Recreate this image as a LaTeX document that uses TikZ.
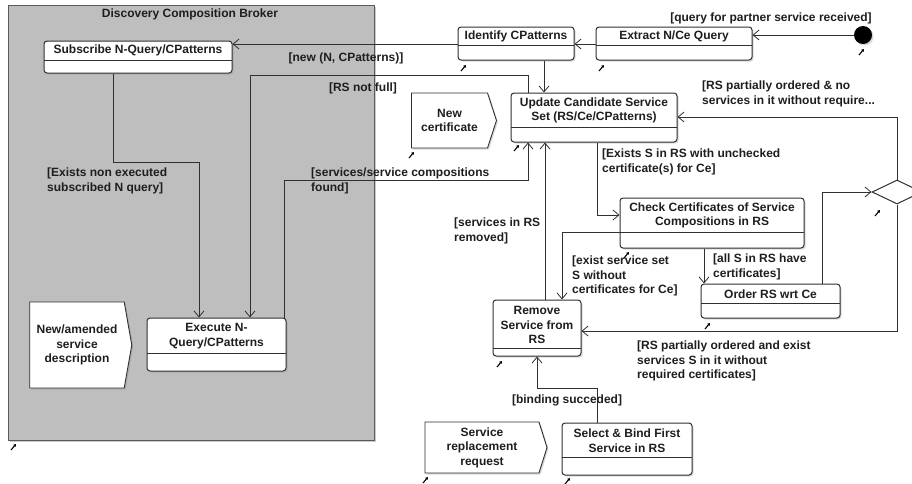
\documentclass[tikz,border=0pt]{standalone}
\usepackage{fontspec}
\setmainfont{Liberation Sans}
\usetikzlibrary{arrows.meta,shapes.geometric,shapes.symbols,shadows}
\definecolor{brokergray}{HTML}{BEBEBE}
\definecolor{linegray}{HTML}{303030}
\definecolor{txtdark}{HTML}{1E1E1E}

\begin{document}
\begin{tikzpicture}[
    x=1pt, y=-1pt,
    every node/.style={font={\fontsize{12}{14.5}\selectfont\bfseries}, text=txtdark},
    act/.style={draw=linegray, line width=1pt, rounded corners=3pt, fill=white,
                inner sep=0pt,
                drop shadow={shadow xshift=1.5pt, shadow yshift=-1.5pt, opacity=0.3}},
    sig/.style={signal, signal to=east, draw=linegray, line width=0.9pt, fill=white,
                inner sep=0pt, align=center,
                drop shadow={shadow xshift=1.5pt, shadow yshift=-1.5pt, opacity=0.3}},
    sep/.style={draw=linegray, line width=0.8pt},
    flow/.style={draw=linegray, line width=0.8pt, -{Straight Barb[length=6pt,width=10pt]}},
    guard/.style={inner sep=0pt, align=left, anchor=west},
    lnk/.style={line width=1.1pt, -{Triangle[length=2.5pt,width=3pt]}},
]
\useasboundingbox (0,0) rectangle (912,483);
\clip (0,0) rectangle (912,483);

% broker partition
\node[draw=linegray!80, line width=1pt, fill=brokergray, minimum width=366, minimum height=435,
      inner sep=0pt, drop shadow={shadow xshift=1.5pt, shadow yshift=-1.5pt, opacity=0.4}]
  (broker) at (191,222.5) {};
\node (broker-t) at (190,14) {Discovery Composition Broker};

% initial node
\node[circle, fill=black, minimum size=18, inner sep=0pt,
      drop shadow={shadow xshift=1.5pt, shadow yshift=-1.5pt, opacity=0.3}] (init) at (863,35) {};

% actions
\node[act, minimum width=188, minimum height=32] (sub) at (138,57) {};
\draw[sep] (44,60) -- (232,60);
\node (sub-t) at (138,50.5) {Subscribe N-Query/CPatterns};

\node[act, minimum width=116, minimum height=33] (idf) at (516,43.5) {};
\draw[sep] (458,45) -- (574,45);
\node (idf-t) at (516,36.5) {Identify CPatterns};

\node[act, minimum width=156, minimum height=33] (ext) at (674,43.5) {};
\draw[sep] (596,45) -- (752,45);
\node (ext-t) at (674,36.5) {Extract N/Ce Query};

\node[act, minimum width=166, minimum height=49] (upd) at (594,117.5) {};
\draw[sep] (511,127) -- (677,127);
\node[align=center] (upd-t) at (594,110.5) {Update Candidate Service\\Set (RS/Ce/CPatterns)};

\node[act, minimum width=139, minimum height=53] (exe) at (216.5,344.5) {};
\draw[sep] (147,353) -- (286,353);
\node[align=center] (exe-t) at (216.5,336) {Execute N-\\Query/CPatterns};

\node[act, minimum width=184, minimum height=50] (chk) at (712,223) {};
\draw[sep] (620,232) -- (804,232);
\node[align=center] (chk-t) at (712,215.5) {Check Certificates of Service\\Compositions in RS};

\node[act, minimum width=139, minimum height=34] (ord) at (770.5,301) {};
\draw[sep] (701,303) -- (840,303);
\node (ord-t) at (770.5,294) {Order RS wrt Ce};

\node[act, minimum width=88, minimum height=56] (rem) at (537,328) {};
\draw[sep] (493,348) -- (581,348);
\node[align=center] (rem-t) at (537,325) {Remove\\Service from\\RS};

\node[act, minimum width=130, minimum height=52] (sel) at (627,449) {};
\draw[sep] (562,457) -- (692,457);
\node[align=center] (sel-t) at (627,440.5) {Select \& Bind First\\Service in RS};

% decision
\node[diamond, draw=linegray, line width=1pt, fill=white, minimum width=50, minimum height=24,
      inner sep=0pt] (dec) at (897,192) {};

% signals
\node[sig, signal pointer angle=144, minimum width=85, minimum height=55] (ncert) at (449.5,120.5)
  {New\\certificate};
\node[sig, signal pointer angle=160, minimum width=102, minimum height=86] (nasd) at (77,345)
  {New/amended\\service\\description};
\node[sig, signal pointer angle=145, minimum width=122, minimum height=51] (srr) at (482,447.5)
  {Service\\replacement\\request};

% flows
\draw[flow] (init) -- (ext.east |- init);
\node (g-query) at (771,18) {[query for partner service received]};

\draw[flow] (ext.west |- 0,44) -- (idf.east |- 0,44);
\draw[flow] (idf.west |- 0,44) -- (sub.east |- 0,44);
\node (g-new) at (346,58) {[new (N, CPatterns)]};

\draw[flow] (idf.south -| 544,0) -- (upd.north -| 544,0);

\draw[flow] (upd.north -| 528,0) |- (250,75) -- (exe.north -| 250,0);
\node (g-full) at (363,88) {[RS not full]};

\draw[flow] (sub.south -| 113,0) |- (199,162) -- (exe.north -| 199,0);
\node[guard] (g-exists) at (47,181) {[Exists non executed\\subscribed N query]};

\draw[flow] (exe.north -| 284,0) |- (528,180) -- (upd.south -| 528,0);
\node[guard] (g-found) at (311,181) {[services/service compositions\\found]};

\draw[flow] (rem.north -| 545,0) -- (upd.south -| 545,0);
\node[guard] (g-removed) at (454,231) {[services in RS\\removed]};

\draw[flow] (upd.south -| 597,0) |- (chk.west |- 0,215);
\node[guard] (g-unchecked) at (602,162) {[Exists S in RS with unchecked\\certificate(s) for Ce]};

\draw[flow] (chk.west |- 0,232) -| (rem.north -| 562,0);
\node[guard] (g-without) at (572,276) {[exist service set\\S without\\certificates for Ce]};

\draw[flow] (chk.south -| 704,0) -- (ord.north -| 704,0);
\node[guard] (g-all) at (713,267) {[all S in RS have\\certificates]};

\draw[flow] (ord.north -| 822,0) |- (dec.west);

\draw[flow] (dec.north) |- (upd.east |- 0,117);
\node[guard] (g-nomiss) at (702,94) {[RS partially ordered \& no\\services in it without require...};

\draw[flow] (dec.south) |- (rem.east |- 0,331);
\node[guard] (g-partial) at (637,361) {[RS partially ordered and exist\\services S in it without\\required certificates]};

\draw[flow] (sel.north -| 597,0) |- (537,388) -- (rem.south -| 537,0);
\node (g-bind) at (567,400) {[binding succeded]};

% link markers
\foreach \mx/\my in {463/68, 601/68, 516/148, 411/155, 861/52, 877/213,
                     626/255, 707/326, 499/364, 567/481, 425/480, 13/447}{
  \draw[lnk] (\mx-2,\my+3) -- ++(5,-6);
}

\end{tikzpicture}
\end{document}
